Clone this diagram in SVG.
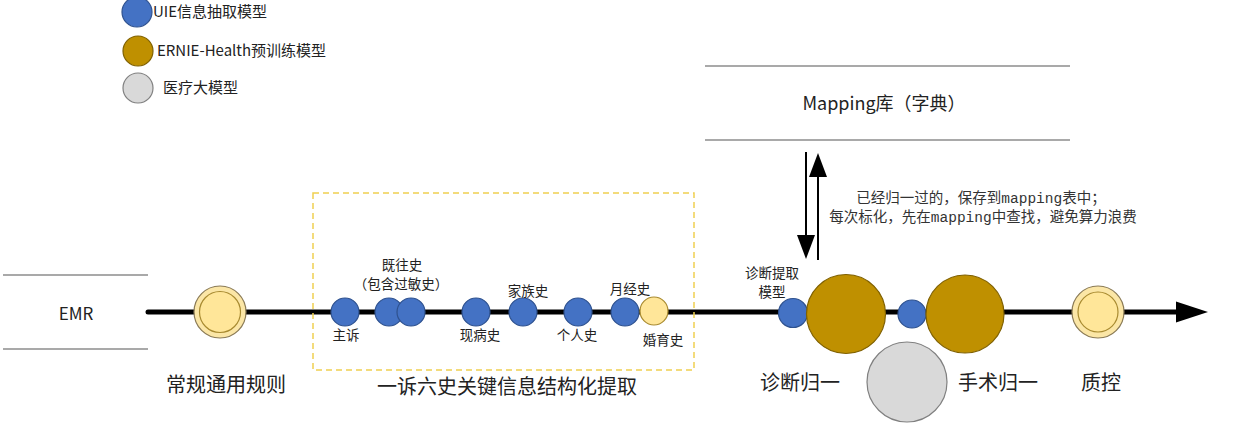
<svg xmlns="http://www.w3.org/2000/svg" width="1237" height="426" viewBox="0 0 1237 426">
<style>
text{font-family:"Noto Sans CJK SC","Noto Sans",sans-serif;fill:#222}
.lg{font-size:15px}
.sm{font-size:13.5px}
.big{font-size:20px}
.note{font-family:"Liberation Mono","Noto Sans CJK SC",monospace;font-size:14.5px;fill:#333}
.blue{fill:#4472c4;stroke:#2f528f;stroke-width:1.2}
.gold{fill:#bf9000;stroke:#7f6000;stroke-width:1.2}
.gray{fill:#d9d9d9;stroke:#808080;stroke-width:1.2}
.pale{fill:#ffe699;stroke:#a88a30;stroke-width:1.2}
.ring{fill:#fbe6a6;stroke:#8a7a55;stroke-width:1.2}
.rule{stroke:#8c8c8c;stroke-width:1.5}
.head{fill:#000}
</style>
<rect width="1237" height="426" fill="#fff"/>

<g id="legend">
<g id="legend-uie"><circle class="blue" cx="137" cy="12" r="15"/><text class="lg" x="153" y="17">UIE信息抽取模型</text></g>
<g id="legend-ernie"><circle class="gold" cx="138" cy="51" r="15"/><text class="lg" x="157" y="56">ERNIE-Health预训练模型</text></g>
<g id="legend-med"><circle class="gray" cx="138" cy="88" r="15"/><text class="lg" x="163" y="93">医疗大模型</text></g>
</g>

<g id="connectors">
<line x1="148" y1="312" x2="1178" y2="312" stroke="#000" stroke-width="5" stroke-linecap="round"/>
<path class="head" d="M1176,301.5 L1208,312 L1176,322.5 Z"/>
<line x1="806" y1="152" x2="806" y2="236" stroke="#000" stroke-width="2"/>
<path class="head" d="M797,235 L815,235 L806,259 Z"/>
<line x1="818" y1="176" x2="818" y2="260" stroke="#000" stroke-width="2"/>
<path class="head" d="M809,177 L827,177 L818,153 Z"/>
</g>

<g id="emr">
<line class="rule" x1="3" y1="275" x2="148" y2="275"/>
<line class="rule" x1="3" y1="349" x2="148" y2="349"/>
<text x="76" y="320" font-size="17" text-anchor="middle">EMR</text>
</g>

<g id="mapping">
<line class="rule" x1="705" y1="66" x2="1070" y2="66"/>
<line class="rule" x1="705" y1="140" x2="1070" y2="140"/>
<text x="884" y="110" font-size="18" text-anchor="middle">Mapping库（字典）</text>
</g>

<g id="mapping-note">
<text class="note" x="981" y="203" text-anchor="middle">已经归一过的，保存到mapping表中；</text>
<text class="note" x="983" y="222" text-anchor="middle">每次标化，先在mapping中查找，避免算力浪费</text>
</g>

<g id="rules">
<circle class="ring" cx="220" cy="312" r="26"/>
<circle class="pale" cx="220" cy="312" r="20.5"/>
<text class="big" x="226" y="392" text-anchor="middle">常规通用规则</text>
</g>

<g id="extraction">
<rect x="313" y="193" width="381" height="177" fill="none" stroke="#f0d050" stroke-width="1.5" stroke-dasharray="6,4"/>
<text class="big" x="507" y="394" text-anchor="middle">一诉六史关键信息结构化提取</text>
</g>

<g id="zhusu"><circle class="blue" cx="345" cy="312" r="14"/><text class="sm" x="346" y="340" text-anchor="middle">主诉</text></g>
<g id="jiwangshi">
<circle class="blue" cx="389" cy="312" r="14"/><circle class="blue" cx="411" cy="312" r="14"/>
<text class="sm" x="402" y="270" text-anchor="middle">既往史</text>
<text class="sm" x="401" y="289" text-anchor="middle">（包含过敏史）</text>
</g>
<g id="xianbingshi"><circle class="blue" cx="476" cy="312" r="14"/><text class="sm" x="480" y="340" text-anchor="middle">现病史</text></g>
<g id="jiazushi"><circle class="blue" cx="523" cy="312" r="14"/><text class="sm" x="528" y="296" text-anchor="middle">家族史</text></g>
<g id="gerenshi"><circle class="blue" cx="578" cy="312" r="14"/><text class="sm" x="577" y="340" text-anchor="middle">个人史</text></g>
<g id="yuejingshi"><circle class="blue" cx="625" cy="312" r="14"/><text class="sm" x="630" y="294" text-anchor="middle">月经史</text></g>
<g id="hunyushi"><circle class="pale" cx="654" cy="311" r="14"/><text class="sm" x="663" y="345" text-anchor="middle">婚育史</text></g>

<g id="diag-extract">
<circle class="blue" cx="793" cy="313" r="14.5"/>
<text class="sm" x="772" y="278" text-anchor="middle">诊断提取</text>
<text class="sm" x="772" y="297" text-anchor="middle">模型</text>
</g>
<g id="diag-norm">
<circle class="gold" cx="846" cy="314" r="39.5"/>
<text class="big" x="800" y="390" text-anchor="middle">诊断归一</text>
</g>
<g id="llm"><circle class="gray" cx="907" cy="382" r="40"/></g>
<g id="op-extract"><circle class="blue" cx="912" cy="314" r="14"/></g>
<g id="op-norm">
<circle class="gold" cx="965" cy="314" r="39"/>
<text class="big" x="998" y="390" text-anchor="middle">手术归一</text>
</g>
<g id="qc">
<circle class="ring" cx="1098" cy="312" r="26"/>
<circle class="pale" cx="1098" cy="312" r="20"/>
<text class="big" x="1101" y="390" text-anchor="middle">质控</text>
</g>
</svg>
